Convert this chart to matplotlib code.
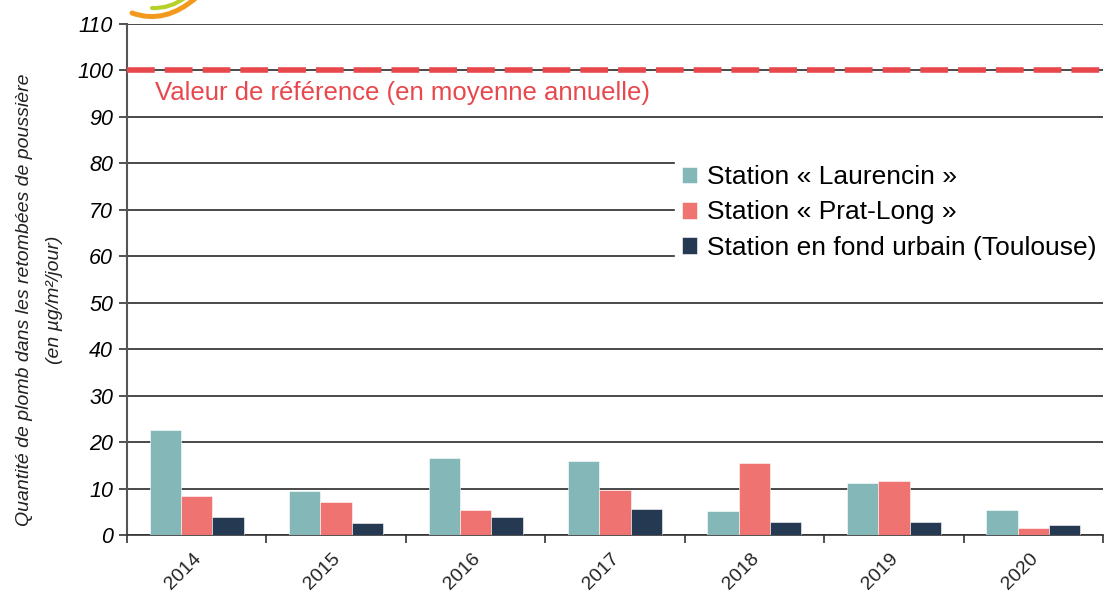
import matplotlib

matplotlib.use("Agg")
import matplotlib.pyplot as plt
import matplotlib.patches as mpatches
from matplotlib.path import Path
import numpy as np

plt.rcParams["font.family"] = ["Liberation Sans", "DejaVu Sans"]

# Data
years = ["2014", "2015", "2016", "2017", "2018", "2019", "2020"]
laurencin = [22.6, 9.5, 16.5, 15.9, 5.1, 11.2, 5.4]
prat_long = [8.4, 7.0, 5.4, 9.6, 15.4, 11.7, 1.5]
toulouse = [3.9, 2.5, 3.9, 5.6, 2.8, 2.8, 2.2]
series_labels = [
    "Station « Laurencin »",
    "Station « Prat-Long »",
    "Station en fond urbain (Toulouse)",
]
reference_value = 100
reference_label = "Valeur de référence (en moyenne annuelle)"

colors = ["#84b7b8", "#ee7371", "#253a52"]
ref_color = "#e8474c"

W, H = 1105, 594
fig = plt.figure(figsize=(W / 100, H / 100), dpi=100)
ax = fig.add_axes([127 / W, 59 / H, 976 / W, 511 / H])

x = np.arange(len(years))
width = 0.225
for i, (vals, lab) in enumerate(zip([laurencin, prat_long, toulouse], series_labels)):
    ax.bar(x + (i - 1) * width, vals, width, color=colors[i], label=lab,
           edgecolor="white", linewidth=0.4, zorder=3)

# gridlines
ax.set_ylim(0, 110)
ax.set_yticks(np.arange(0, 111, 10))
ax.yaxis.grid(True, color="#2a2a2a", linewidth=1.2, zorder=0)
ax.set_axisbelow(True)

# reference line
ax.axhline(reference_value, color=ref_color, linewidth=4, linestyle=(0, (5, 1.8)), zorder=4)
ax.text(-0.3, 95.2, reference_label, color=ref_color, fontsize=18.5,
        ha="left", va="center", zorder=5)

ax.set_xlim(-0.5, len(years) - 0.5)
ax.set_xticks(np.arange(len(years) + 1) - 0.5)
ax.set_xticklabels([])
ax.set_xticks(x - 0.03, minor=True)
ax.set_xticklabels(years, minor=True, rotation=45, ha="right", va="top",
                   rotation_mode="anchor", fontsize=14)
ax.tick_params(axis="x", which="minor", length=0, pad=11)
ax.tick_params(axis="x", which="major", length=6, width=1.2, color="#333333",
               direction="out")
ax.tick_params(axis="y", length=6, width=1.2, color="#333333", direction="out",
               labelsize=15.5, pad=4)
for lbl in ax.get_yticklabels():
    lbl.set_fontstyle("italic")
for lbl in ax.get_xticklabels(minor=True):
    lbl.set_color("#222222")

for s in ["top", "right"]:
    ax.spines[s].set_visible(False)
ax.spines["left"].set_color("#555555")
ax.spines["left"].set_linewidth(1.5)
ax.spines["bottom"].set_color("#333333")
ax.spines["bottom"].set_linewidth(1.2)

# y-axis title (two lines)
fig.text(25 / W, 1 - 300 / H, "Quantité de plomb dans les retombées de poussière",
         rotation=90, fontsize=14, fontstyle="italic", color="#222222",
         ha="center", va="center")
fig.text(55 / W, 1 - 300 / H, "(en µg/m²/jour)", rotation=90, fontsize=14,
         fontstyle="italic", color="#222222", ha="center", va="center")

leg = ax.legend(loc="upper left", bbox_to_anchor=(0.548, 0.762), frameon=True,
                fancybox=False, edgecolor="white", facecolor="white", framealpha=1,
                fontsize=19, handlelength=0.6, handleheight=0.6, handletextpad=0.35,
                labelspacing=0.42, borderpad=0.25)
leg.set_zorder(6)


# logo fragment cut by the top edge (pixel coords from top-left)
def px(pts):
    return [(u / W, 1 - v / H) for u, v in pts]


for pts, col, lw in [
    ([(132, 13), (165, 25), (197, -3)], "#f39a1e", 3.6),
    ([(152, 8), (170, 9), (186, -3)], "#b7d12b", 3.0),
]:
    path = Path(px(pts), [Path.MOVETO, Path.CURVE3, Path.CURVE3])
    fig.patches.append(mpatches.PathPatch(path, facecolor="none", edgecolor=col,
                                          linewidth=lw, capstyle="round",
                                          transform=fig.transFigure, figure=fig))

fig.savefig("out.png", dpi=100)
